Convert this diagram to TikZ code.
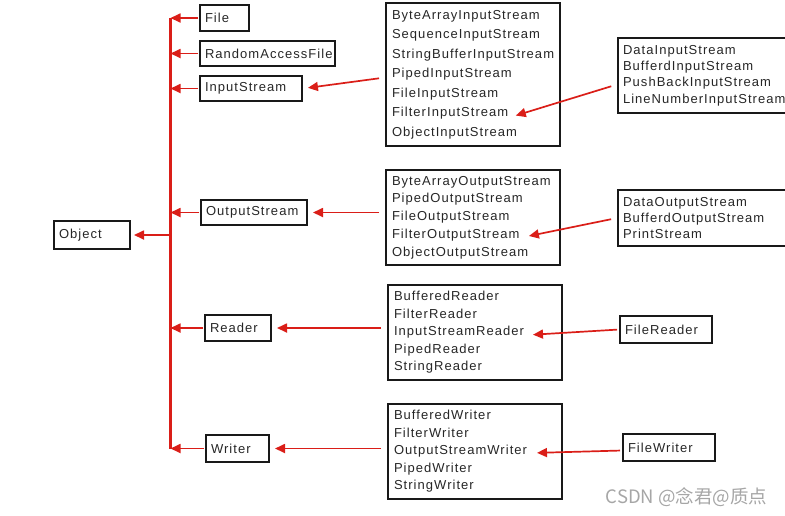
\documentclass[tikz,border=0pt]{standalone}
\usepackage{fontspec}
\setsansfont{Liberation Sans}[LetterSpace=8]
\newfontfamily\cjkfont{Noto Sans CJK SC}
\usetikzlibrary{
  arrows.meta,
  positioning
}
\definecolor{linkred}{RGB}{218,30,24}

\begin{document}
\begin{tikzpicture}[
            x=1pt, y=-1pt,
            font=\sffamily\fontsize{13}{16}\selectfont,
            leaf/.style={rectangle, draw=black!90, line width=2pt, text=black!85, text width=#1, align=left, inner xsep=5pt, minimum height=26pt},
            list/.style={rectangle, draw=black!90, line width=2pt, text=black!85, text width=#1, align=left, inner xsep=6pt},
            arrow/.style={draw=linkred, line width=1.7pt, -{Triangle[length=10pt,width=9pt]}, shorten <=6pt, shorten >=5pt},
            branch/.style={arrow, shorten <=1pt, shorten >=0pt},
            trunk/.style={draw=linkred, line width=3pt}
        ]
        \clip (0,0) rectangle (785,515);

        % Nodi (colonna sinistra)
        \node (object) [leaf=66pt, minimum height=28pt] at (92,235) {Object};
        \node (file) [leaf=39pt] at (224.5,18) {File};
        \node (raf) [leaf=125pt, minimum height=25pt] at (267.5,53.5) {RandomAccessFile};
        \node (instream) [leaf=92pt, minimum height=25pt] at (251,88.5) {InputStream};
        \node (outstream) [leaf=96pt, minimum height=25pt] at (254,212.5) {OutputStream};
        \node (reader) [leaf=56pt] at (238,328) {Reader};
        \node (writer) [leaf=53pt, minimum height=27pt] at (237.5,448.5) {Writer};

        % Sottoclassi
        \node (inlist) [list=162pt, minimum height=143pt, font=\sffamily\fontsize{13}{19.5}\selectfont] at (473,74.5)
            {ByteArrayInputStream\\SequenceInputStream\\StringBufferInputStream\\PipedInputStream\\FileInputStream\\FilterInputStream\\ObjectInputStream};
        \node (outlist) [list=162pt, minimum height=95pt, font=\sffamily\fontsize{13}{17.75}\selectfont] at (473,217.5)
            {ByteArrayOutputStream\\PipedOutputStream\\FileOutputStream\\FilterOutputStream\\ObjectOutputStream};
        \node (readlist) [list=162pt, minimum height=95pt, font=\sffamily\fontsize{13}{17.5}\selectfont] at (475,332.5)
            {BufferedReader\\FilterReader\\InputStreamReader\\PipedReader\\StringReader};
        \node (writelist) [list=162pt, minimum height=95pt, font=\sffamily\fontsize{13}{17.5}\selectfont] at (475,451.5)
            {BufferedWriter\\FilterWriter\\OutputStreamWriter\\PipedWriter\\StringWriter};

        % Decoratori (colonna destra)
        \node (datain) [list=180pt, inner xsep=5pt, anchor=west, minimum height=75pt, font=\sffamily\fontsize{13}{16.3}\selectfont] at (617,75.5)
            {DataInputStream\\BufferdInputStream\\PushBackInputStream\\LineNumberInputStream};
        \node (dataout) [list=180pt, inner xsep=5pt, anchor=west, minimum height=56pt, font=\sffamily\fontsize{13}{16}\selectfont] at (617,218)
            {DataOutputStream\\BufferdOutputStream\\PrintStream};
        \node (filereader) [leaf=82pt, minimum height=27pt] at (666,329.5) {FileReader};
        \node (filewriter) [leaf=82pt, minimum height=27pt] at (669,447.5) {FileWriter};

        \node (mark) [anchor=east, font=\cjkfont\fontsize{18.5}{18.5}\selectfont, text=black!35] at (771,497) {CSDN @念君@质点};

        % Punti di arrivo
        \coordinate (trunk) at (170.5,0);
        \coordinate (filterin) at (511,117);
        \coordinate (filterout) at (524,237);
        \coordinate (isreader) at (528,335);
        \coordinate (oswriter) at (532,453);

        % Collegamenti
        \draw [trunk] (file.west -| trunk) -- (writer.west -| trunk);
        \draw [branch] (file.west) -- (file.west -| trunk);
        \draw [branch] (raf.west) -- (raf.west -| trunk);
        \draw [branch] (instream.west) -- (instream.west -| trunk);
        \draw [branch] (outstream.west) -- (outstream.west -| trunk);
        \draw [branch] (reader.west) -- (reader.west -| trunk);
        \draw [branch] (writer.west) -- (writer.west -| trunk);
        \draw [branch, shorten <=0pt, shorten >=3pt] (object.east -| trunk) -- (object.east);

        \draw [arrow] ([yshift=-3pt]inlist.west) -- (instream.east);
        \draw [arrow] (outlist.west |- outstream.east) -- (outstream.east);
        \draw [arrow] (readlist.west |- reader.east) -- (reader.east);
        \draw [arrow] (writelist.west |- writer.east) -- (writer.east);

        \draw [arrow] ([yshift=-9pt]datain.west) -- (filterin);
        \draw [arrow] (dataout.west) -- (filterout);
        \draw [arrow, shorten <=2pt] (filereader.west) -- (isreader);
        \draw [arrow, shorten <=2pt] ([yshift=-3pt]filewriter.west) -- (oswriter);

    \end{tikzpicture}
\end{document}
